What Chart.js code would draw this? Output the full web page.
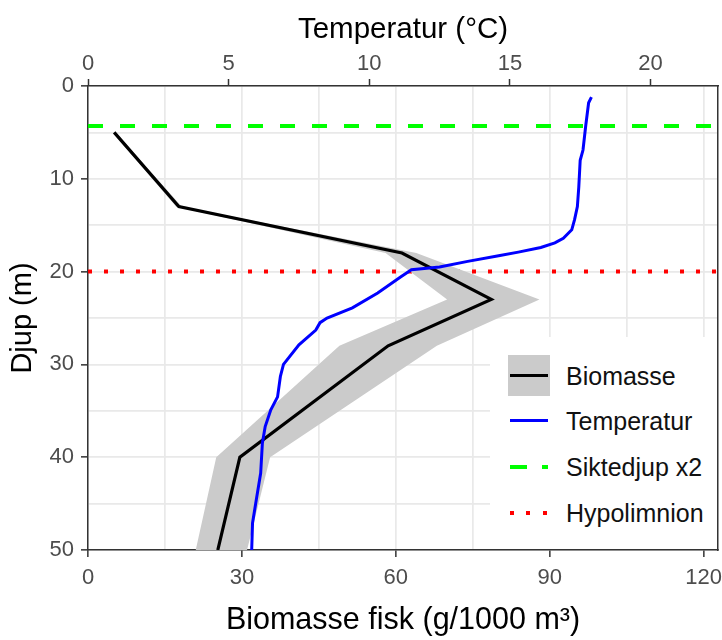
<!DOCTYPE html>
<html>
<head>
<meta charset="utf-8">
<script src="https://cdn.jsdelivr.net/npm/chart.js@4.4.1/dist/chart.umd.min.js"></script>
<style>
    body { margin: 0; background: #fff; }
    .wrap { position: relative; width: 722px; height: 640px; }
    .legend { position: absolute; left: 490px; top: 337px; width: 227px; height: 212px; background: #fff; font-family: 'Liberation Sans', Arial, sans-serif; }
    .legend__item { position: absolute; left: 76px; font-size: 25px; line-height: 30px; color: #111; white-space: nowrap; }
    .legend__key { position: absolute; }
</style>
</head>
<body>
<div class="wrap">
    <canvas id="myChart" width="722" height="640"></canvas>
    <div class="legend" id="legend"></div>
</div>
<script>
// dybde (m) for biomasse-målingene
const depthBio = [5, 13, 18, 23, 28, 40, 50]
const biomasse = [5.1, 17.7, 61.2, 78.6, 58.5, 29.6, 25.3]
const biomasseLow = [4.8, 17.2, 58, 70, 49, 25, 21]
const biomasseHigh = [5.4, 18.3, 64, 88, 68, 35.5, 31]

// temperaturprofil
const depthTemp = [1.2, 1.8, 4.2, 6.9, 8, 10.9, 13, 14.4, 15.5, 16.4, 16.9, 17.4, 17.9, 18.3, 18.9, 19.5, 19.8, 20.6, 22.3, 23.9, 25, 25.5, 26.3, 27.9, 30, 31.3, 33.5, 34.9, 36.7, 38.5, 41.7, 44.3, 47.1, 50]
const temperatur = [17.9, 17.8, 17.7, 17.6, 17.5, 17.45, 17.4, 17.3, 17.2, 16.9, 16.6, 16.1, 15.3, 14.6, 13.5, 12.5, 11.5, 11.1, 10.3, 9.4, 8.5, 8.25, 8.1, 7.5, 6.95, 6.84, 6.74, 6.5, 6.3, 6.2, 6.14, 6.0, 5.85, 5.82]

const siktedjup2 = 4.3
const hypolimnion = 20

const bioTicks = [0, 30, 60, 90, 120]
const tempTicks = [0, 5, 10, 15, 20]
const depthTicks = [0, 10, 20, 30, 40, 50]
const legendNames = ['Biomasse', 'Temperatur', 'Siktedjup x2', 'Hypolimnion']

const bioMax = 122.8
const tempMax = 22.4

const pairs = (ys, xs) => ys.map((y, i) => ({x: xs[i], y: y}))
const hline = (y) => [{x: 0, y: y}, {x: bioMax, y: y}]

const FONT = "'Liberation Sans', Arial, sans-serif"
Chart.defaults.font.family = FONT

const majorTick = (list) => (c) => (c.tick && list.includes(c.tick.value)) ? '#333333' : 'rgba(0,0,0,0)'
const noPad = (s) => { s.paddingLeft = 0; s.paddingRight = 0; s.paddingTop = 0; s.paddingBottom = 0 }

const ctx = document.getElementById('myChart').getContext('2d')
const myChart = new Chart(ctx, {
    type: 'line',
    data: {
        datasets: [{
            label: 'low',
            data: pairs(depthBio, biomasseLow),
            xAxisID: 'x', yAxisID: 'y',
            borderWidth: 0, pointRadius: 0, fill: false, order: 3
        }, {
            label: 'high',
            data: pairs(depthBio, biomasseHigh),
            xAxisID: 'x', yAxisID: 'y',
            borderWidth: 0, pointRadius: 0,
            backgroundColor: '#cbcbcb', fill: '-1', order: 2
        }, {
            label: legendNames[0],
            data: pairs(depthBio, biomasse),
            xAxisID: 'x', yAxisID: 'y',
            borderColor: '#000000', borderWidth: 3.2, pointRadius: 0, order: 1
        }, {
            label: legendNames[1],
            data: pairs(depthTemp, temperatur),
            xAxisID: 'x2', yAxisID: 'y',
            borderColor: '#0000ff', borderWidth: 3, pointRadius: 0, order: 0
        }, {
            label: legendNames[2],
            data: hline(siktedjup2),
            xAxisID: 'x', yAxisID: 'y',
            borderColor: '#00ff00', borderWidth: 4, borderDash: [15, 17], pointRadius: 0, order: 4
        }, {
            label: legendNames[3],
            data: hline(hypolimnion),
            xAxisID: 'x', yAxisID: 'y',
            borderColor: '#ff0000', borderWidth: 4, borderDash: [4, 12], pointRadius: 0, order: 5
        }]
    },
    options: {
        indexAxis: 'y',
        responsive: false,
        animation: false,
        events: [],
        elements: { line: { tension: 0, borderCapStyle: 'butt' } },
        layout: { padding: 0 },
        scales: {
            y: {
                type: 'linear', position: 'left', reverse: true, min: 0, max: 50,
                ticks: {
                    stepSize: 5, padding: 7, color: '#4d4d4d', font: { size: 22 },
                    callback: (v) => depthTicks.includes(v) ? v : ''
                },
                grid: { color: '#e9e9e9', lineWidth: 1.7, tickLength: 7, tickColor: majorTick(depthTicks), tickWidth: 1.5 },
                border: { display: true, color: '#333333', width: 1.5 },
                title: { display: true, text: 'Djup (m)', color: '#000', font: { size: 29 }, padding: { top: 6, bottom: 0 } },
                afterFit: (s) => { s.width = 88; noPad(s) }
            },
            yR: {
                type: 'linear', position: 'right', reverse: true, min: 0, max: 50,
                ticks: { display: false },
                grid: { display: false },
                border: { display: true, color: '#333333', width: 1.5 },
                afterFit: (s) => { s.width = 4; noPad(s) }
            },
            x: {
                type: 'linear', position: 'bottom', min: 0, max: bioMax,
                ticks: {
                    stepSize: 15, includeBounds: false, padding: 8, color: '#4d4d4d', font: { size: 22 }, maxRotation: 0,
                    callback: (v) => bioTicks.includes(v) ? v : ''
                },
                grid: { color: '#e9e9e9', lineWidth: 1.7, tickLength: 7, tickColor: majorTick(bioTicks), tickWidth: 1.5 },
                border: { display: true, color: '#333333', width: 1.5 },
                title: { display: true, text: 'Biomasse fisk (g/1000 m³)', color: '#000', font: { size: 30.5 }, padding: { top: 0, bottom: 1 } },
                afterFit: (s) => { s.height = 90; noPad(s) }
            },
            x2: {
                type: 'linear', position: 'top', min: 0, max: tempMax,
                ticks: { stepSize: 5, includeBounds: false, padding: 2, color: '#4d4d4d', font: { size: 22 }, maxRotation: 0 },
                grid: { drawOnChartArea: false, tickLength: 7, tickColor: '#333333', tickWidth: 1.5 },
                border: { display: true, color: '#333333', width: 1.5 },
                title: { display: true, text: 'Temperatur (°C)', color: '#000', font: { size: 29.5 }, padding: { top: 12, bottom: 0 } },
                afterFit: (s) => { s.height = 86; noPad(s) }
            }
        },
        plugins: {
            legend: { display: false },
            tooltip: { enabled: false }
        }
    }
})

// legend
const handleLegend = () => {
    const box = document.getElementById('legend')
    const rows = [39, 84, 130, 176]
    const keys = [
        '<div class="legend__key" style="left:18px;top:-21px;width:42px;height:41px;background:#cbcbcb"></div>' +
        '<div class="legend__key" style="left:20px;top:-2px;width:38px;height:3px;background:#000"></div>',
        '<div class="legend__key" style="left:20px;top:-2px;width:38px;height:3px;background:#0000ff"></div>',
        '<div class="legend__key" style="left:20px;top:-2px;width:17px;height:4px;background:#00ff00"></div>' +
        '<div class="legend__key" style="left:52px;top:-2px;width:6px;height:4px;background:#00ff00"></div>',
        '<div class="legend__key" style="left:20px;top:-2px;width:4px;height:4px;background:#ff0000"></div>' +
        '<div class="legend__key" style="left:36px;top:-2px;width:4px;height:4px;background:#ff0000"></div>' +
        '<div class="legend__key" style="left:53px;top:-2px;width:4px;height:4px;background:#ff0000"></div>'
    ]
    legendNames.forEach((name, i) => {
        const row = document.createElement('div')
        row.style.position = 'absolute'
        row.style.left = '0px'
        row.style.top = rows[i] + 'px'
        row.innerHTML = keys[i] + '<div class="legend__item" style="top:-15px">' + name + '</div>'
        box.appendChild(row)
    })
}
handleLegend()
</script>
</body>
</html>
